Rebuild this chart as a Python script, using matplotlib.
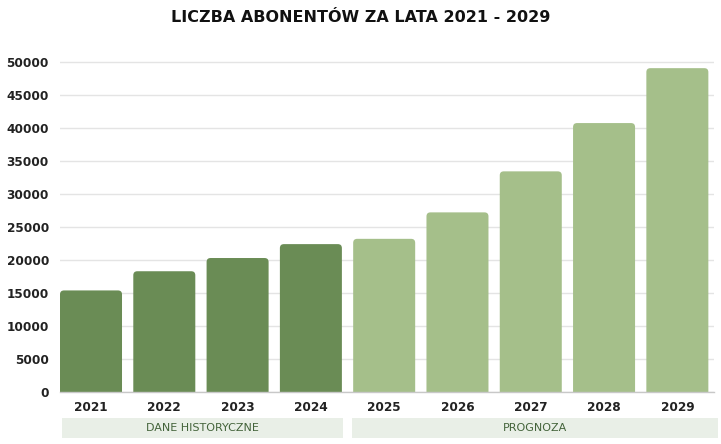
import numpy as np
import matplotlib
matplotlib.use("Agg")
import matplotlib.pyplot as plt
from matplotlib.patches import FancyBboxPatch, Rectangle
from matplotlib import transforms

# dane
lata = ["2021", "2022", "2023", "2024", "2025", "2026", "2027", "2028", "2029"]
abonenci = [15400, 18300, 20300, 22400, 23200, 27200, 33400, 40700, 49000]
historyczne = [True, True, True, True, False, False, False, False, False]
grupy = ["DANE HISTORYCZNE", "PROGNOZA"]

kolor_hist = "#6a8c55"
kolor_prog = "#a5bf8a"

plt.rcParams['font.family'] = ['DejaVu Sans']

W, H = 721, 444
fig = plt.figure(figsize=(W / 100, H / 100), dpi=100)
ax = fig.add_axes([60 / W, 1 - 392.3 / H, 654 / W, (392.3 - 58.9) / H])

x = np.arange(len(lata))
szer = 0.846
kolory = [kolor_hist if h else kolor_prog for h in historyczne]
bars = ax.bar(x, abonenci, width=szer, color=kolory, zorder=2)

ax.set_xlim(-0.423, 8.5)
ax.set_ylim(0, 50400)

# zaokraglone rogi - zamiana prostokatow na FancyBboxPatch
px_x = (8.5 + 0.423) / 654
px_y = 50400 / (392.3 - 58.9)
for b in bars:
    b.set_visible(False)
    r = 4 * px_x
    p = FancyBboxPatch((b.get_x(), -3000), b.get_width(), b.get_height() + 3000,
                       boxstyle="round,pad=0,rounding_size=%f" % r,
                       mutation_aspect=px_y / px_x,
                       facecolor=b.get_facecolor(), edgecolor="none", zorder=2)
    ax.add_patch(p)

ax.set_yticks(np.arange(0, 50001, 5000))
ax.yaxis.grid(True, color="#e4e4e4", linewidth=1, zorder=0)
ax.set_axisbelow(True)
for s in ["top", "right", "left"]:
    ax.spines[s].set_visible(False)
ax.spines["bottom"].set_color("#c8c8c8")
ax.spines["bottom"].set_linewidth(1)
ax.spines["bottom"].set_zorder(3)

ax.set_xticks(x)
ax.set_xticklabels(lata)
ax.tick_params(axis="both", length=0, labelsize=8.7, labelcolor="#222222")
ax.tick_params(axis="y", pad=8)
ax.tick_params(axis="x", pad=6)
for t in ax.get_xticklabels() + ax.get_yticklabels():
    t.set_fontweight("bold")

# pasy z opisem grup
tr = transforms.blended_transform_factory(ax.transData, fig.transFigure)
y0 = 1 - 437.5 / H
h = (437.5 - 417.7) / H
krawedzie = [(-0.40, 3.44), (3.565, 8.55)]
for nazwa, (a, b) in zip(grupy, krawedzie):
    rect = Rectangle((a, y0), b - a, h, transform=tr, facecolor="#e9efe7",
                     edgecolor="none", clip_on=False)
    ax.add_patch(rect)
    ax.text((a + b) / 2, y0 + h / 2, nazwa, transform=tr, ha="center", va="center",
            fontsize=8, color="#43633a")

fig.text(0.5, 1 - 18 / H, "LICZBA ABONENTÓW ZA LATA 2021 - 2029", ha="center", va="center",
         fontsize=11.5, fontweight="bold", color="#111111")

fig.savefig("out.png", dpi=100)
